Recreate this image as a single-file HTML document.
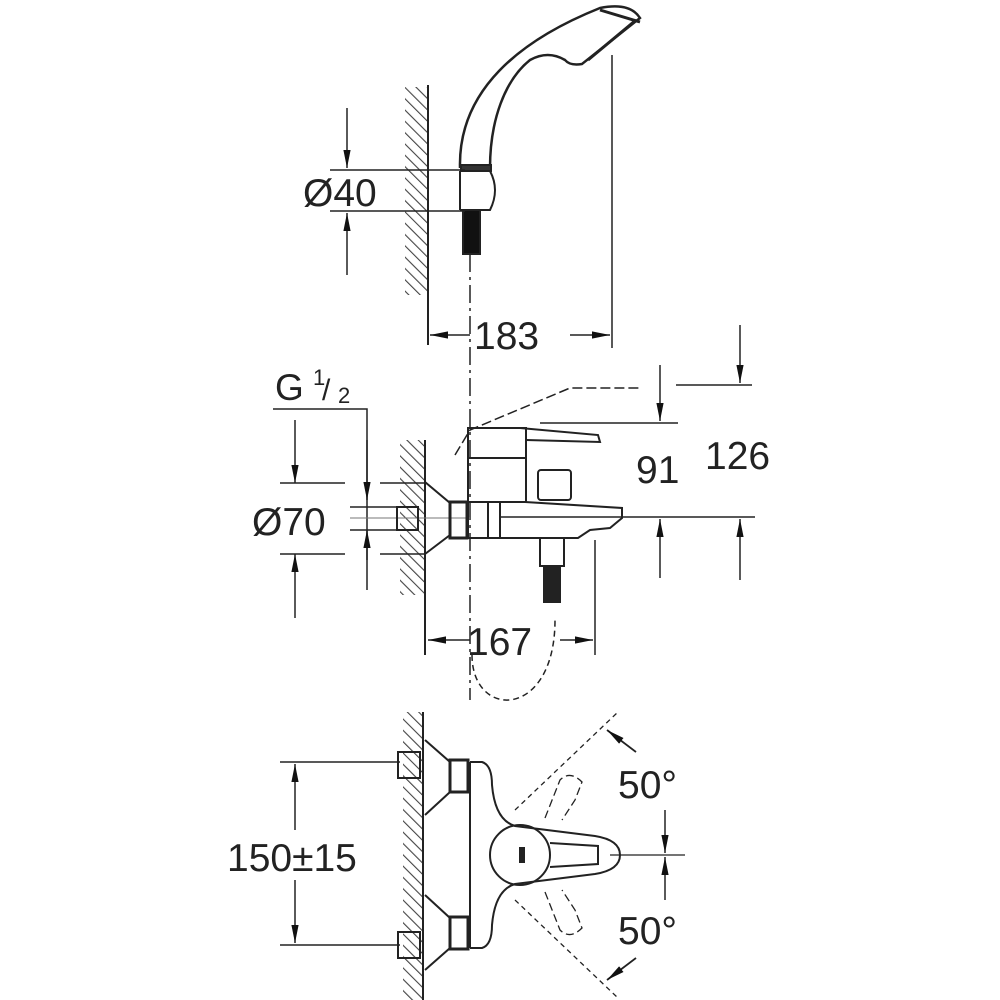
<!DOCTYPE html>
<html><head><meta charset="utf-8"><style>
html,body{margin:0;padding:0;background:#fff}
svg{display:block}
text{font-family:"Liberation Sans",Arial,sans-serif;fill:#222}
</style></head><body>
<svg width="1000" height="1000" viewBox="0 0 1000 1000" xmlns="http://www.w3.org/2000/svg">
<defs>
<pattern id="h" width="8" height="8" patternUnits="userSpaceOnUse" patternTransform="rotate(-45)">
<line x1="0" y1="0" x2="0" y2="8" stroke="#444" stroke-width="2.2"/></pattern>
<marker id="a" viewBox="0 0 10 10" refX="10" refY="5" markerWidth="18" markerHeight="8" orient="auto-start-reverse" markerUnits="userSpaceOnUse" preserveAspectRatio="none">
<path d="M0,0.5 L10,5 L0,9.5z" fill="#111"/></marker>
</defs>
<g stroke="#222" stroke-width="2" fill="none">
<!-- TOP: wall -->
<rect x="405" y="87" width="23" height="208" fill="url(#h)" stroke="none"/>
<line x1="428" y1="85" x2="428" y2="345"/>
<!-- shower head -->
<path d="M460,168 C458,90 520,40 600,8 Q630,2 640,18 L582,64 Q570,66 565,60 Q548,50 530,60 C505,80 490,120 490,168" stroke-width="2.5"/>
<path d="M600,10 L640,22 M588,60 L636,20" stroke-width="3"/>
<rect x="461" y="165" width="30" height="6" fill="#333"/>
<path d="M460,171 L460,210 M490,171 Q500,190 490,210 L460,210"/>
<rect x="463" y="210" width="17" height="44" fill="#111"/>
<line x1="470" y1="254" x2="470" y2="700" stroke-dasharray="18,5,3,5" stroke-width="1.5"/>
<!-- Ø40 -->
<line x1="330" y1="170" x2="465" y2="170" stroke-width="1.5"/>
<line x1="330" y1="211" x2="465" y2="211" stroke-width="1.5"/>
<line x1="347" y1="108" x2="347" y2="168" marker-end="url(#a)" stroke-width="1.5"/>
<line x1="347" y1="275" x2="347" y2="213" marker-end="url(#a)" stroke-width="1.5"/>
<!-- 183 -->
<line x1="612" y1="55" x2="612" y2="348" stroke-width="1.5"/>
<line x1="470" y1="335" x2="430" y2="335" marker-end="url(#a)" stroke-width="1.5"/>
<line x1="570" y1="335" x2="610" y2="335" marker-end="url(#a)" stroke-width="1.5"/>

<!-- MIDDLE wall -->
<rect x="400" y="440" width="25" height="155" fill="url(#h)" stroke="none"/>
<line x1="425" y1="440" x2="425" y2="655"/>
<!-- G1/2 -->
<polyline points="273,409 367,409 367,590" stroke-width="1.5"/>
<line x1="367" y1="440" x2="367" y2="500" marker-end="url(#a)" stroke-width="1.5"/>
<line x1="367" y1="560" x2="367" y2="530" marker-end="url(#a)" stroke-width="1.5"/>
<!-- Ø70 -->
<line x1="280" y1="483" x2="345" y2="483" stroke-width="1.5"/>
<line x1="380" y1="483" x2="425" y2="483" stroke-width="1.5"/>
<line x1="280" y1="554" x2="345" y2="554" stroke-width="1.5"/>
<line x1="380" y1="554" x2="425" y2="554" stroke-width="1.5"/>
<line x1="295" y1="420" x2="295" y2="483" marker-end="url(#a)" stroke-width="1.5"/>
<line x1="295" y1="618" x2="295" y2="554" marker-end="url(#a)" stroke-width="1.5"/>
<line x1="350" y1="507" x2="398" y2="507" stroke-width="1.5"/>
<line x1="350" y1="530" x2="398" y2="530" stroke-width="1.5"/>
<line x1="350" y1="518" x2="470" y2="518" stroke-width="1" stroke="#777"/>
<rect x="397" y="507" width="21" height="23"/>
<path d="M425,482 L450,503 L450,535 L425,554"/>
<rect x="450" y="502" width="17" height="36" stroke-width="3"/>
<!-- body -->
<path d="M468,502 L468,538 L578,538 L590,530 L610,528 L622,518 L622,508 L525,502 Z"/>
<line x1="488" y1="502" x2="488" y2="538"/>
<line x1="500" y1="502" x2="500" y2="538"/>
<rect x="468" y="428" width="58" height="74"/>
<line x1="468" y1="458" x2="526" y2="458"/>
<path d="M468,428 L520,428 L598,435 L600,442 L526,440"/>
<rect x="538" y="470" width="33" height="30" rx="3"/>
<rect x="540" y="538" width="24" height="28"/>
<rect x="544" y="566" width="16" height="36" fill="#222"/>
<path d="M455,455 L470,430 L570,388 L640,388" stroke-dasharray="10,4" stroke-width="1.5"/>
<!-- 91 / 126 -->
<line x1="540" y1="423" x2="678" y2="423" stroke-width="1.5"/>
<line x1="660" y1="365" x2="660" y2="421" marker-end="url(#a)" stroke-width="1.5"/>
<line x1="660" y1="578" x2="660" y2="519" marker-end="url(#a)" stroke-width="1.5"/>
<line x1="500" y1="517" x2="755" y2="517" stroke-width="1.5"/>
<line x1="676" y1="385" x2="752" y2="385" stroke-width="1.5"/>
<line x1="740" y1="325" x2="740" y2="383" marker-end="url(#a)" stroke-width="1.5"/>
<line x1="740" y1="580" x2="740" y2="519" marker-end="url(#a)" stroke-width="1.5"/>
<!-- 167 -->
<line x1="595" y1="540" x2="595" y2="655" stroke-width="1.5"/>
<line x1="470" y1="640" x2="428" y2="640" marker-end="url(#a)" stroke-width="1.5"/>
<line x1="560" y1="640" x2="593" y2="640" marker-end="url(#a)" stroke-width="1.5"/>
<path d="M472,655 C472,720 555,720 555,620" stroke-dasharray="6,4" stroke-width="1.5"/>

<!-- BOTTOM -->
<rect x="403" y="712" width="20" height="288" fill="url(#h)" stroke="none"/>
<line x1="423" y1="712" x2="423" y2="1000"/>
<rect x="398" y="752" width="22" height="26"/>
<rect x="398" y="932" width="22" height="26"/>
<path d="M425,740 L450,762 L450,792 L425,815"/>
<path d="M425,895 L450,918 L450,948 L425,970"/>
<rect x="450" y="760" width="18" height="32" stroke-width="3"/>
<rect x="450" y="917" width="18" height="32" stroke-width="3"/>
<line x1="470" y1="762" x2="470" y2="948"/>
<path d="M470,762 L482,762 Q492,765 492,785 Q495,820 515,826 L595,836 Q620,840 620,855 Q620,870 595,874 L515,884 Q495,890 492,925 Q492,945 482,948 L470,948"/>
<circle cx="520" cy="855" r="30"/>
<path d="M550,843 L598,846 L598,864 L550,867"/>
<rect x="520" y="848" width="4" height="14" fill="#222"/>
<!-- ghost levers -->
<line x1="515" y1="810" x2="618" y2="712" stroke-dasharray="5,4" stroke-width="1.3"/>
<line x1="515" y1="900" x2="618" y2="998" stroke-dasharray="5,4" stroke-width="1.3"/>
<path d="M545,818 L560,780 Q570,770 582,782 L575,800 L562,820" stroke-dasharray="8,4" stroke-width="1.3"/>
<path d="M545,892 L560,930 Q570,940 582,928 L575,910 L562,890" stroke-dasharray="8,4" stroke-width="1.3"/>
<line x1="636" y1="752" x2="607" y2="730" marker-end="url(#a)" stroke-width="1.8"/>
<line x1="636" y1="958" x2="607" y2="980" marker-end="url(#a)" stroke-width="1.8"/>
<line x1="610" y1="855" x2="685" y2="855" stroke-width="1.3"/>
<line x1="665" y1="810" x2="665" y2="853" marker-end="url(#a)" stroke-width="1.5"/>
<line x1="665" y1="900" x2="665" y2="857" marker-end="url(#a)" stroke-width="1.5"/>
<!-- 150±15 -->
<line x1="280" y1="762" x2="400" y2="762" stroke-width="1.5"/>
<line x1="280" y1="945" x2="400" y2="945" stroke-width="1.5"/>
<line x1="295" y1="830" x2="295" y2="764" marker-end="url(#a)" stroke-width="1.5"/>
<line x1="295" y1="880" x2="295" y2="943" marker-end="url(#a)" stroke-width="1.5"/>
</g>
<g font-size="39">
<text x="303" y="206">Ø40</text>
<text x="474" y="349">183</text>
<text x="275" y="400" font-size="37">G</text>
<text x="313" y="385" font-size="22">1</text>
<text x="322" y="400" font-size="30">/</text>
<text x="338" y="403" font-size="22">2</text>
<text x="252" y="535">Ø70</text>
<text x="636" y="483">91</text>
<text x="705" y="469">126</text>
<text x="467" y="655">167</text>
<text x="227" y="871">150±15</text>
<text x="618" y="798">50°</text>
<text x="618" y="944">50°</text>
</g>
</svg>
</body></html>
